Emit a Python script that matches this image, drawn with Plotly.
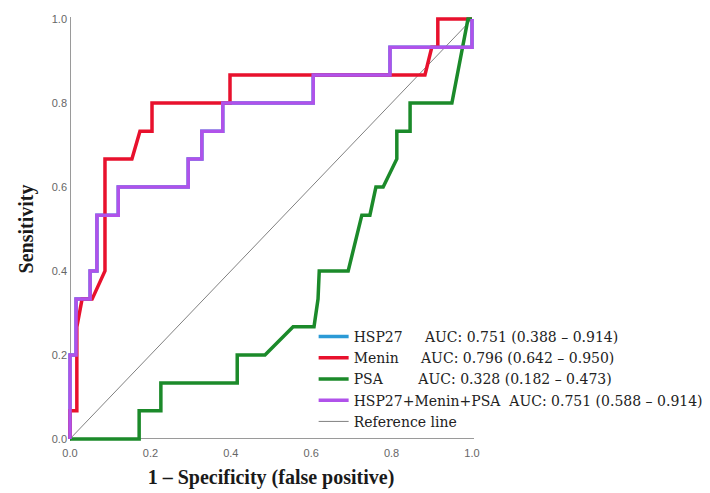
import plotly.graph_objects as go

# ROC coordinates: 1 - specificity (fpr) and sensitivity (tpr)
combo_fpr = [0.0, 0.0, 0.015, 0.015, 0.05, 0.05, 0.067, 0.067, 0.12, 0.12, 0.294, 0.294,
             0.328, 0.328, 0.38, 0.38, 0.605, 0.605, 0.796, 0.796, 1.0, 1.0]
combo_tpr = [0.0, 0.2, 0.2, 0.333, 0.333, 0.4, 0.4, 0.533, 0.533, 0.6, 0.6, 0.667,
             0.667, 0.733, 0.733, 0.8, 0.8, 0.867, 0.867, 0.933, 0.933, 1.0]

# HSP27 alone traces the same path as the combined marker
hsp27_fpr = list(combo_fpr)
hsp27_tpr = list(combo_tpr)

menin_fpr = [0.0, 0.0, 0.017, 0.017, 0.03, 0.055, 0.087, 0.087, 0.154, 0.174, 0.204, 0.204,
             0.398, 0.398, 0.883, 0.90, 0.915, 0.915, 1.0]
menin_tpr = [0.0, 0.067, 0.067, 0.267, 0.333, 0.333, 0.4, 0.667, 0.667, 0.733, 0.733, 0.8,
             0.8, 0.867, 0.867, 0.933, 0.933, 1.0, 1.0]

psa_fpr = [0.0, 0.172, 0.172, 0.226, 0.226, 0.416, 0.416, 0.485, 0.555, 0.607, 0.617, 0.62,
           0.692, 0.726, 0.746, 0.761, 0.779, 0.813, 0.813, 0.846, 0.846, 0.95, 0.99, 1.0]
psa_tpr = [0.0, 0.0, 0.067, 0.067, 0.133, 0.133, 0.2, 0.2, 0.267, 0.267, 0.333, 0.4,
           0.4, 0.533, 0.533, 0.6, 0.6, 0.667, 0.733, 0.733, 0.8, 0.8, 1.0, 1.0]

ref_x = [0.0, 1.0]
ref_y = [0.0, 1.0]

names = [
    "HSP27\u00a0\u00a0\u00a0\u00a0\u00a0AUC: 0.751 (0.388 \u2013 0.914)",
    "Menin\u00a0\u00a0\u00a0\u00a0\u00a0AUC: 0.796 (0.642 \u2013 0.950)",
    "PSA\u00a0\u00a0\u00a0\u00a0\u00a0\u00a0\u00a0\u00a0AUC: 0.328 (0.182 \u2013 0.473)",
    "HSP27+Menin+PSA\u00a0\u00a0AUC: 0.751 (0.588 \u2013 0.914)",
    "Reference line",
]
colors = ["#2b9ad6", "#e8112d", "#1b8a2a", "#b052ea", "#808080"]

fig = go.Figure()
fig.add_trace(go.Scatter(x=hsp27_fpr, y=hsp27_tpr, mode="lines", name=names[0],
                         line=dict(color=colors[0], width=3.5)))
fig.add_trace(go.Scatter(x=ref_x, y=ref_y, mode="lines", name=names[4], showlegend=False,
                         line=dict(color=colors[4], width=1)))
fig.add_trace(go.Scatter(x=menin_fpr, y=menin_tpr, mode="lines", name=names[1],
                         line=dict(color=colors[1], width=3.5)))
fig.add_trace(go.Scatter(x=psa_fpr, y=psa_tpr, mode="lines", name=names[2],
                         line=dict(color=colors[2], width=3.5)))
fig.add_trace(go.Scatter(x=combo_fpr, y=combo_tpr, mode="lines", name=names[3],
                         line=dict(color=colors[3], width=3.5)))
# legend entry for the diagonal
fig.add_trace(go.Scatter(x=[None], y=[None], mode="lines", name=names[4],
                         line=dict(color=colors[4], width=1)))

tick_vals = [0.0, 0.2, 0.4, 0.6, 0.8, 1.0]
tick_text = ["0.0", "0.2", "0.4", "0.6", "0.8", "1.0"]

axis_common = dict(
    range=[-0.005, 1.005],
    automargin=False,
    showgrid=False,
    showline=False,
    zeroline=True,
    zerolinecolor="#9a9a9a",
    zerolinewidth=1,
    tickvals=tick_vals,
    ticktext=tick_text,
    ticks="",
    tickfont=dict(family="Arial, Liberation Sans, sans-serif", size=11, color="#666666"),
)

title_font = dict(family="Liberation Serif, serif", size=20, color="#1a1a1a")

fig.update_layout(
    width=710,
    height=493,
    paper_bgcolor="white",
    plot_bgcolor="white",
    margin=dict(l=68, r=236, t=17, b=52, autoexpand=False),
    xaxis=dict(axis_common,
               ticklabelstandoff=4,
               title=dict(text="<b>1 \u2013 Specificity (false positive)</b>",
                          font=title_font, standoff=11)),
    yaxis=dict(axis_common,
               title=dict(text="<b>Sensitivity</b>",
                          font=title_font, standoff=12)),
    legend=dict(
        x=0.605, y=0.283, xanchor="left", yanchor="top",
        bgcolor="rgba(255,255,255,0)",
        font=dict(family="DejaVu Serif, serif", size=14, color="#222222"),
        itemwidth=30,
        tracegroupgap=0,
    ),
    showlegend=True,
)

fig.write_html("out.html")
